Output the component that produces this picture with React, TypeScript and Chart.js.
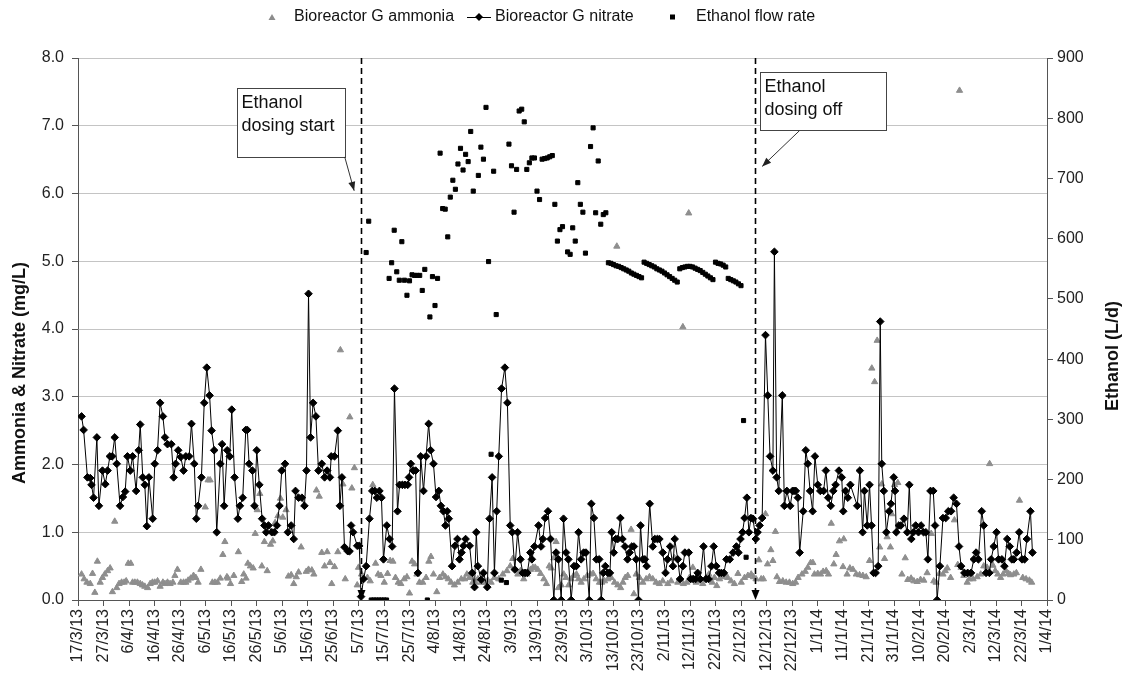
import { useEffect, useRef } from "react";
import { Chart, registerables } from "chart.js";

Chart.register(...registerables);

// X axis: day number since 17/3/13, ticks every 10 days
const xTickLabels = [
  "17/3/13", "27/3/13", "6/4/13", "16/4/13", "26/4/13", "6/5/13", "16/5/13", "26/5/13",
  "5/6/13", "15/6/13", "25/6/13", "5/7/13", "15/7/13", "25/7/13", "4/8/13", "14/8/13",
  "24/8/13", "3/9/13", "13/9/13", "23/9/13", "3/10/13", "13/10/13", "23/10/13", "2/11/13",
  "12/11/13", "22/11/13", "2/12/13", "12/12/13", "22/12/13", "1/1/14", "11/1/14", "21/1/14",
  "31/1/14", "10/2/14", "20/2/14", "2/3/14", "12/3/14", "22/3/14", "1/4/14",
];

const seriesNames = ["Bioreactor G ammonia", "Bioreactor G nitrate", "Ethanol flow rate"];

// [day, mg/L]
const nitrate: [number, number][] = [
  [1.4, 2.71], [2.2, 2.51], [3.7, 1.81], [4.8, 1.8], [5.3, 1.7], [6.1, 1.51], [7.4, 2.4], [8.2, 1.39],
  [9.6, 1.91], [10.7, 1.71], [11.6, 1.91], [12.5, 2.12], [13.4, 2.12], [14.4, 2.4], [15.2, 2.01], [16.5, 1.39],
  [17.6, 1.52], [18.5, 1.6], [19.4, 2.12], [20.5, 1.91], [21.4, 2.12], [22.8, 1.61], [23.8, 2.21], [24.4, 2.59],
  [25.4, 1.81], [26.2, 1.7], [27.0, 1.09], [27.8, 1.81], [29.3, 1.2], [30.1, 2.01], [31.2, 2.21], [32.2, 2.91],
  [33.3, 2.71], [34.1, 2.4], [35.1, 2.3], [36.6, 2.3], [37.5, 1.81], [38.3, 2.01], [39.3, 2.21], [40.3, 2.11],
  [41.4, 1.91], [42.3, 2.12], [43.6, 2.12], [44.5, 2.6], [45.6, 2.01], [46.4, 1.2], [47.1, 1.39], [48.4, 1.81],
  [49.5, 2.91], [50.5, 3.43], [51.6, 3.02], [52.4, 2.5], [53.4, 2.21], [54.4, 1.0], [55.8, 2.01], [56.5, 2.3],
  [57.3, 1.39], [58.5, 2.21], [59.5, 2.12], [60.3, 2.81], [61.4, 1.81], [62.7, 1.2], [63.5, 1.39], [64.6, 1.51],
  [65.8, 2.51], [66.4, 2.51], [67.1, 2.01], [68.4, 1.91], [69.2, 1.39], [70.1, 2.21], [71.1, 1.7], [72.2, 1.2],
  [73.1, 1.1], [73.8, 1.0], [74.7, 1.1], [76.0, 1.0], [77.0, 1.0], [78.0, 1.1], [79.0, 1.39], [79.9, 1.91],
  [81.2, 2.01], [82.3, 1.0], [83.6, 1.1], [84.6, 0.9], [85.3, 1.61], [86.5, 1.51], [87.8, 1.51], [88.8, 1.39],
  [89.6, 1.91], [90.4, 4.52], [91.2, 2.4], [92.2, 2.91], [93.3, 2.71], [94.3, 1.91], [95.6, 2.01], [96.7, 1.81],
  [97.7, 1.91], [98.8, 1.81], [99.3, 2.12], [100.6, 2.12], [101.9, 2.5], [102.7, 1.39], [103.5, 1.81], [104.5, 0.78],
  [105.8, 0.72], [106.5, 0.72], [107.1, 1.1], [107.9, 1.0], [109.5, 0.8], [110.3, 0.8], [111.0, 0.05], [112.0, 0.31],
  [113.0, 0.5], [114.3, 1.2], [115.4, 1.61], [116.4, 1.61], [117.2, 1.51], [118.2, 1.61], [119.0, 1.51], [119.8, 0.6],
  [121.1, 1.1], [122.2, 0.9], [123.2, 0.79], [124.1, 3.12], [125.3, 1.31], [126.1, 1.7], [127.2, 1.7], [128.2, 1.7],
  [129.3, 1.7], [129.8, 1.81], [130.5, 2.01], [131.5, 1.91], [132.4, 1.91], [133.3, 0.4], [134.4, 2.12], [135.5, 1.61],
  [136.5, 2.12], [137.5, 2.6], [138.3, 2.21], [139.4, 2.01], [140.4, 1.52], [141.5, 1.61], [142.3, 1.39], [143.3, 1.31],
  [144.1, 1.1], [144.8, 1.31], [145.4, 1.2], [146.7, 0.5], [147.8, 0.8], [148.8, 0.9], [149.6, 0.6], [150.4, 0.7],
  [151.2, 0.8], [152.0, 0.9], [153.6, 0.8], [154.6, 0.4], [155.5, 0.19], [156.2, 1.0], [156.8, 0.5], [158.1, 0.3],
  [159.0, 0.4], [160.5, 0.19], [161.4, 1.2], [162.4, 1.81], [163.3, 0.4], [164.2, 1.31], [165.0, 2.12], [166.1, 3.12],
  [167.4, 3.43], [168.4, 2.91], [169.5, 1.1], [170.3, 1.0], [171.3, 0.45], [172.4, 1.0], [173.5, 0.6], [174.4, 0.4],
  [175.3, 0.4], [176.2, 0.4], [177.4, 0.7], [178.0, 0.6], [179.0, 0.79], [180.6, 1.1], [181.6, 0.79], [182.3, 0.9],
  [183.2, 1.21], [184.3, 1.31], [185.3, 0.9], [186.6, 0.0], [187.5, 0.7], [188.4, 0.6], [189.5, 0.0], [190.4, 1.2],
  [191.4, 0.7], [192.3, 0.6], [193.4, 0.0], [194.5, 0.5], [195.4, 0.5], [196.3, 1.0], [197.3, 0.6], [198.3, 0.7],
  [199.2, 0.7], [200.5, 0.0], [201.3, 1.42], [202.3, 1.21], [203.3, 0.6], [204.4, 0.6], [205.2, 0.0], [206.0, 0.4],
  [206.8, 0.5], [207.8, 0.4], [208.6, 0.4], [209.3, 1.0], [210.1, 0.7], [210.9, 0.9], [211.7, 0.9], [212.7, 1.21],
  [213.5, 0.9], [214.5, 0.79], [215.5, 0.6], [216.3, 0.7], [217.2, 0.79], [218.0, 0.79], [218.9, 0.6], [219.8, 0.0],
  [220.6, 1.1], [221.5, 0.6], [222.3, 0.6], [223.0, 0.5], [224.2, 1.42], [225.4, 0.79], [226.2, 0.9], [227.2, 0.9],
  [228.0, 0.9], [229.3, 0.7], [230.4, 0.4], [231.2, 0.6], [232.2, 0.79], [233.3, 0.5], [234.0, 0.9], [235.2, 0.6],
  [236.1, 0.31], [237.2, 0.5], [238.0, 0.7], [239.5, 0.7], [240.3, 0.31], [241.2, 0.31], [242.2, 0.31], [243.0, 0.4],
  [244.0, 0.31], [245.3, 0.79], [246.3, 0.31], [247.3, 0.31], [248.4, 0.5], [249.3, 0.79], [250.3, 0.5], [251.4, 0.4],
  [252.3, 0.4], [253.3, 0.4], [254.3, 0.6], [255.6, 0.6], [256.9, 0.7], [258.2, 0.79], [259.0, 0.7], [259.8, 0.9],
  [260.6, 1.0], [261.4, 1.21], [262.3, 1.51], [263.1, 1.0], [263.9, 1.21], [264.7, 1.2], [265.8, 0.9], [266.5, 1.0],
  [267.3, 1.1], [268.3, 1.21], [269.6, 3.91], [270.5, 3.02], [271.4, 2.12], [272.5, 1.91], [273.1, 5.14], [274.0, 1.81],
  [274.8, 1.61], [276.2, 3.02], [277.0, 1.39], [278.0, 1.61], [279.3, 1.39], [280.2, 1.61], [280.8, 1.61], [281.5, 1.61],
  [282.3, 1.51], [283.0, 0.7], [284.4, 1.31], [285.4, 2.21], [286.2, 2.01], [287.1, 1.61], [288.1, 1.31], [289.0, 2.12],
  [290.1, 1.7], [291.1, 1.61], [292.4, 1.61], [293.3, 1.91], [294.2, 1.51], [295.2, 1.39], [296.2, 1.61], [297.1, 1.7],
  [298.4, 1.91], [299.5, 1.81], [300.1, 1.31], [301.0, 1.61], [301.9, 1.51], [302.9, 1.7], [305.6, 1.39], [306.6, 1.91],
  [307.7, 1.0], [308.4, 1.61], [309.5, 1.1], [310.4, 1.7], [311.2, 1.1], [312.0, 0.4], [312.8, 0.4], [313.8, 0.5],
  [314.6, 4.11], [315.2, 2.01], [316.0, 1.61], [317.0, 1.0], [318.1, 1.31], [318.8, 1.42], [319.9, 1.81], [320.4, 1.61],
  [320.9, 1.0], [321.9, 1.1], [322.7, 1.1], [323.9, 1.2], [325.2, 1.0], [326.0, 1.7], [326.8, 0.9], [327.6, 1.0],
  [328.5, 1.1], [329.6, 1.0], [330.6, 1.1], [331.6, 1.0], [332.5, 1.0], [333.3, 0.6], [334.3, 1.61], [335.4, 1.61],
  [336.1, 1.1], [336.9, 0.0], [338.0, 0.5], [339.2, 1.21], [340.3, 1.21], [341.3, 1.31], [342.4, 1.31], [343.4, 1.51],
  [344.5, 1.42], [345.5, 0.79], [346.3, 0.5], [347.6, 0.4], [348.9, 0.4], [350.2, 0.4], [351.3, 0.6], [352.2, 0.7],
  [353.1, 0.6], [354.4, 1.31], [355.2, 1.1], [356.1, 0.4], [357.4, 0.4], [358.1, 0.6], [359.1, 0.79], [360.2, 1.0],
  [361.0, 0.6], [362.3, 0.6], [363.3, 0.5], [364.4, 0.9], [365.4, 0.79], [366.2, 0.6], [367.0, 0.6], [368.1, 0.7],
  [369.1, 1.0], [370.2, 0.6], [371.2, 0.6], [372.1, 0.9], [373.5, 1.31], [374.3, 0.7],
];

// [day, mg/L]
const ammonia: [number, number][] = [
  [1.4, 0.38], [2.4, 0.31], [3.5, 0.26], [4.8, 0.24], [5.7, 0.39], [6.6, 0.11], [7.6, 0.57], [8.7, 0.26],
  [9.6, 0.33], [10.5, 0.38], [11.6, 0.43], [12.6, 0.47], [13.5, 0.12], [14.4, 1.16], [15.2, 0.18], [16.1, 0.24],
  [17.1, 0.26], [18.1, 0.26], [18.9, 0.28], [19.7, 0.54], [20.7, 0.54], [21.4, 0.26], [22.3, 0.26], [23.3, 0.26],
  [24.4, 0.24], [25.3, 0.22], [26.2, 0.2], [27.3, 0.18], [28.3, 0.24], [29.2, 0.26], [30.1, 0.26], [31.2, 0.28],
  [32.2, 0.2], [33.3, 0.26], [34.1, 0.24], [35.1, 0.26], [36.1, 0.24], [37.2, 0.26], [38.0, 0.36], [39.0, 0.45],
  [40.3, 0.26], [41.4, 0.26], [42.3, 0.26], [43.2, 0.29], [44.2, 0.32], [45.3, 0.36], [46.2, 0.33], [47.1, 0.26],
  [48.2, 0.45], [49.9, 1.37], [51.0, 1.77], [51.8, 1.77], [52.7, 0.26], [53.7, 0.26], [54.7, 0.26], [55.8, 0.32],
  [56.8, 0.67], [57.6, 0.86], [58.4, 0.34], [58.8, 0.32], [59.8, 0.24], [61.1, 0.36], [62.9, 0.71], [64.2, 0.27],
  [65.0, 0.38], [65.9, 0.32], [66.6, 0.54], [67.6, 0.5], [68.7, 0.47], [69.5, 0.98], [70.3, 1.33], [71.3, 1.57],
  [72.1, 0.5], [73.1, 0.86], [74.2, 0.43], [75.5, 0.82], [76.4, 0.87], [77.3, 1.14], [78.4, 1.24], [79.4, 1.5],
  [80.3, 1.22], [81.6, 1.33], [82.5, 0.35], [83.6, 0.37], [84.6, 0.24], [85.6, 0.34], [86.5, 0.41], [87.5, 0.78],
  [89.5, 0.42], [90.4, 0.45], [91.7, 0.44], [92.5, 0.38], [93.5, 1.62], [94.6, 1.53], [95.6, 0.7], [96.7, 0.5],
  [97.7, 0.71], [98.8, 0.55], [99.5, 0.24], [100.6, 0.49], [101.9, 0.71], [102.9, 3.69], [103.9, 1.71], [104.8, 0.31],
  [106.6, 2.7], [107.4, 1.65], [108.4, 1.95], [109.5, 0.22], [110.0, 0.48], [111.2, 0.38], [113.5, 0.33], [114.6, 0.28],
  [115.6, 1.7], [116.7, 0.54], [117.7, 0.38], [118.8, 0.36], [120.1, 0.26], [121.4, 0.39], [122.4, 0.58], [123.5, 0.57],
  [124.5, 0.33], [125.6, 0.26], [126.6, 0.24], [127.9, 0.31], [129.0, 0.34], [130.0, 0.1], [131.0, 0.57], [132.0, 0.53],
  [132.9, 0.38], [133.9, 0.26], [135.2, 0.26], [136.5, 0.33], [137.6, 0.57], [138.4, 0.64], [139.4, 0.38], [140.7, 0.12],
  [141.8, 0.33], [143.1, 0.38], [144.1, 0.34], [145.2, 0.31], [146.3, 0.26], [147.6, 0.22], [148.9, 0.26], [150.3, 0.31],
  [151.6, 0.31], [152.5, 0.38], [153.5, 0.33], [154.8, 0.26], [155.9, 0.26], [156.8, 0.31], [158.1, 0.26], [159.4, 0.26],
  [160.7, 0.29], [162.0, 0.26], [163.3, 0.33], [165.0, 0.31], [166.6, 0.38], [168.2, 0.43], [169.5, 0.5], [170.5, 0.61],
  [172.5, 0.38], [173.5, 0.43], [174.8, 0.31], [176.1, 0.38], [177.5, 0.45], [178.4, 0.48], [179.3, 0.48], [180.3, 0.45],
  [181.4, 0.39], [182.7, 0.31], [183.7, 0.24], [184.8, 0.5], [185.6, 0.47], [186.6, 0.62], [187.5, 0.86], [188.4, 0.18],
  [189.5, 0.22], [190.5, 0.38], [191.4, 0.33], [192.4, 0.22], [193.4, 0.31], [194.4, 0.36], [195.5, 0.38], [196.3, 0.31],
  [197.3, 0.26], [198.4, 0.31], [199.7, 0.36], [201.0, 0.38], [202.0, 0.39], [203.2, 0.31], [204.5, 0.26], [205.4, 0.26],
  [206.5, 0.28], [207.8, 0.31], [209.1, 0.33], [210.4, 0.26], [211.3, 5.22], [211.7, 0.22], [212.8, 0.18], [213.7, 0.26],
  [214.6, 0.33], [215.6, 0.36], [216.9, 1.04], [218.0, 0.09], [218.9, 0.38], [220.2, 0.33], [221.5, 0.26], [222.8, 0.31],
  [224.1, 0.34], [225.4, 0.31], [226.7, 0.26], [228.0, 0.24], [229.3, 0.28], [231.3, 0.24], [232.6, 0.28], [233.9, 0.62],
  [235.2, 0.26], [236.1, 0.31], [237.2, 4.03], [237.4, 0.24], [238.8, 0.26], [239.5, 5.71], [239.8, 0.33], [241.1, 0.48],
  [242.4, 0.26], [243.7, 0.28], [245.0, 0.24], [246.3, 0.33], [247.4, 0.38], [248.7, 0.26], [249.6, 0.33], [250.5, 0.21],
  [251.6, 0.31], [252.6, 0.34], [253.7, 0.37], [254.8, 0.33], [256.1, 0.28], [257.4, 0.24], [258.8, 0.39], [260.1, 0.26],
  [261.4, 0.33], [262.7, 0.36], [264.0, 0.38], [264.9, 0.34], [265.9, 0.31], [267.0, 0.59], [267.9, 0.31], [268.8, 0.31],
  [269.6, 1.27], [270.4, 0.53], [271.7, 0.74], [272.5, 0.58], [273.5, 1.01], [274.1, 0.34], [275.1, 0.27], [276.4, 0.28],
  [277.7, 0.26], [279.0, 0.26], [280.3, 0.24], [281.4, 0.26], [282.4, 0.33], [283.9, 0.38], [285.2, 0.42], [286.2, 0.48],
  [287.3, 0.55], [288.2, 0.55], [288.8, 0.38], [290.1, 0.39], [291.2, 0.38], [292.2, 0.42], [293.4, 0.43], [294.3, 0.38],
  [295.4, 1.13], [296.4, 0.53], [297.3, 0.67], [298.6, 0.87], [300.0, 0.49], [300.3, 0.9], [301.6, 0.38], [302.7, 0.47],
  [303.9, 0.45], [305.2, 0.38], [306.5, 0.37], [307.8, 0.36], [309.1, 0.34], [310.4, 0.58], [311.3, 3.42], [312.4, 3.22],
  [313.4, 3.83], [314.4, 0.78], [315.2, 1.71], [316.3, 0.61], [317.3, 0.93], [318.6, 0.78], [319.1, 1.27], [320.2, 1.7],
  [321.5, 1.73], [323.1, 0.38], [324.4, 0.62], [325.4, 0.3], [326.7, 0.32], [327.8, 0.28], [329.1, 0.27], [330.4, 0.3],
  [331.7, 0.29], [333.0, 0.4], [334.6, 0.98], [335.6, 0.28], [336.5, 0.26], [337.8, 0.39], [339.2, 0.38], [340.1, 0.43],
  [340.9, 0.47], [342.2, 0.33], [343.7, 1.18], [345.0, 0.52], [345.7, 7.52], [346.3, 0.48], [347.4, 0.36], [348.7, 0.26],
  [349.6, 0.31], [351.0, 0.31], [352.6, 0.34], [354.0, 0.38], [355.2, 0.5], [356.5, 0.48], [357.5, 2.01], [358.8, 0.51],
  [359.7, 0.43], [360.7, 0.38], [361.8, 0.33], [362.8, 0.38], [363.9, 0.43], [364.9, 0.39], [365.7, 0.37], [367.0, 0.38],
  [368.0, 0.4], [369.2, 1.47], [370.5, 0.33], [371.8, 0.31], [373.1, 0.29], [374.0, 0.26],
];

// [day, L/d]
const ethanol: [number, number][] = [
  [113, 577], [114, 629], [115, 0], [116, 0], [117, 0], [118, 0], [119, 0], [120, 0], [121, 0], [122, 534],
  [123, 560], [124, 614], [125, 545], [126, 531], [127, 595], [128, 531], [129, 506], [130, 530], [131, 540],
  [132, 539], [133, 539], [134, 539], [135, 514], [136, 549], [137, 0], [138, 470], [139, 537], [140, 489],
  [141, 534], [142, 742], [143, 650], [144, 649], [145, 603], [146, 669], [147, 697], [148, 682], [149, 724],
  [150, 750], [151, 714], [152, 740], [153, 728], [154, 778], [155, 679], [157, 705], [158, 752], [159, 732],
  [160, 818], [161, 562], [162, 242], [163, 712], [164, 474], [166, 33], [168, 29], [169, 757], [170, 721],
  [171, 644], [172, 715], [173, 812], [174, 815], [175, 794], [176, 715], [177, 726], [178, 734], [179, 734],
  [180, 679], [181, 665], [182, 732], [183, 733], [184, 734], [185, 736], [186, 738], [187, 657], [188, 596],
  [189, 615], [190, 620], [192, 578], [193, 574], [194, 618], [195, 596], [196, 693], [197, 657], [198, 644],
  [199, 576], [201, 753], [202, 784], [203, 643], [204, 729], [205, 624], [206, 640], [207, 643],
  [208, 560], [209, 559], [210, 557], [211, 555], [212, 554], [213, 552], [214, 550], [215, 548], [216, 546],
  [217, 543], [218, 541], [219, 539], [220, 537], [221, 535],
  [222, 561], [223, 559], [224, 557], [225, 555], [226, 553], [227, 550], [228, 548], [229, 546], [230, 543],
  [231, 540], [232, 537], [233, 534], [234, 531], [235, 528],
  [236, 550], [237, 552], [238, 553], [239, 554], [240, 554], [241, 553], [242, 551], [243, 549], [244, 547],
  [245, 544], [246, 541], [247, 538], [248, 535], [249, 532],
  [250, 561], [251, 559], [252, 558], [253, 556], [254, 553],
  [255, 534], [256, 532], [257, 530], [258, 528], [259, 525], [260, 522], [261, 298], [262, 71],
];

const ethanolStartDay = 111;
const ethanolOffDay = 265.4;

// Annotation callouts, positioned in data units (day, mg/L)
const callouts = [
  { lines: ["Ethanol", "dosing start"], x0: 62.5, x1: 104.6, yTop: 7.56, yBot: 6.54, from: [104.6, 6.54], to: [108.3, 6.04] },
  { lines: ["Ethanol", "dosing off"], x0: 267.3, x1: 316.7, yTop: 7.8, yBot: 6.93, from: [283, 6.93], to: [268.3, 6.4] },
];

const FONT = "'Liberation Sans', Arial, sans-serif";

function arrowHead(ctx: CanvasRenderingContext2D, x1: number, y1: number, x2: number, y2: number, len: number, half: number) {
  const a = Math.atan2(y2 - y1, x2 - x1);
  ctx.beginPath();
  ctx.moveTo(x2, y2);
  ctx.lineTo(x2 - len * Math.cos(a) + half * Math.sin(a), y2 - len * Math.sin(a) - half * Math.cos(a));
  ctx.lineTo(x2 - len * Math.cos(a) - half * Math.sin(a), y2 - len * Math.sin(a) + half * Math.cos(a));
  ctx.closePath();
  ctx.fill();
}

const overlayPlugin = {
  id: "overlay",
  afterDraw(chart: any) {
    const { ctx, chartArea, scales } = chart;
    const xs = scales.x;
    const ys = scales.y;
    ctx.save();

    // dashed marker lines with downward arrowheads
    for (const d of [ethanolStartDay, ethanolOffDay]) {
      const px = Math.round(xs.getPixelForValue(d)) + 0.5;
      ctx.strokeStyle = "#000";
      ctx.fillStyle = "#000";
      ctx.lineWidth = 1.6;
      ctx.setLineDash([6, 4]);
      ctx.beginPath();
      ctx.moveTo(px, chartArea.top);
      ctx.lineTo(px, chartArea.bottom - 8);
      ctx.stroke();
      ctx.setLineDash([]);
      arrowHead(ctx, px, chartArea.bottom - 20, px, chartArea.bottom, 10, 4);
    }

    // callout boxes
    ctx.setLineDash([]);
    for (const c of callouts) {
      const l = Math.round(xs.getPixelForValue(c.x0)) + 0.5;
      const r = Math.round(xs.getPixelForValue(c.x1)) + 0.5;
      const t = Math.round(ys.getPixelForValue(c.yTop)) + 0.5;
      const b = Math.round(ys.getPixelForValue(c.yBot)) + 0.5;
      ctx.fillStyle = "#fff";
      ctx.fillRect(l, t, r - l, b - t);
      ctx.strokeStyle = "#444";
      ctx.lineWidth = 1;
      ctx.strokeRect(l, t, r - l, b - t);
      ctx.fillStyle = "#111";
      ctx.font = `18px ${FONT}`;
      ctx.textAlign = "left";
      ctx.textBaseline = "middle";
      c.lines.forEach((s, i) => ctx.fillText(s, l + 4, t + 15 + i * 23));
      const fx = xs.getPixelForValue(c.from[0]);
      const fy = ys.getPixelForValue(c.from[1]);
      const tx = xs.getPixelForValue(c.to[0]);
      const ty = ys.getPixelForValue(c.to[1]);
      ctx.strokeStyle = "#333";
      ctx.fillStyle = "#222";
      ctx.beginPath();
      ctx.moveTo(fx, fy);
      ctx.lineTo(tx, ty);
      ctx.stroke();
      arrowHead(ctx, fx, fy, tx, ty, 9, 3.5);
    }

    // axis titles
    ctx.fillStyle = "#111";
    ctx.font = `bold 18px ${FONT}`;
    ctx.textAlign = "center";
    ctx.textBaseline = "middle";
    ctx.save();
    ctx.translate(20, 373);
    ctx.rotate(-Math.PI / 2);
    ctx.fillText("Ammonia & Nitrate (mg/L)", 0, 0);
    ctx.restore();
    ctx.save();
    ctx.translate(1113, 356);
    ctx.rotate(-Math.PI / 2);
    ctx.fillText("Ethanol (L/d)", 0, 0);
    ctx.restore();

    // legend
    const ly = 17;
    ctx.font = `16px ${FONT}`;
    ctx.textAlign = "left";
    ctx.fillStyle = "#8c8c8c";
    ctx.beginPath();
    ctx.moveTo(272, ly - 3);
    ctx.lineTo(275.5, ly + 3);
    ctx.lineTo(268.5, ly + 3);
    ctx.closePath();
    ctx.fill();
    ctx.fillStyle = "#111";
    ctx.fillText(seriesNames[0], 294, ly);
    ctx.strokeStyle = "#000";
    ctx.lineWidth = 1;
    ctx.beginPath();
    ctx.moveTo(467, ly + 0.5);
    ctx.lineTo(491, ly + 0.5);
    ctx.stroke();
    ctx.fillStyle = "#000";
    ctx.beginPath();
    ctx.moveTo(479, ly - 4);
    ctx.lineTo(483, ly);
    ctx.lineTo(479, ly + 4);
    ctx.lineTo(475, ly);
    ctx.closePath();
    ctx.fill();
    ctx.fillStyle = "#111";
    ctx.fillText(seriesNames[1], 495, ly);
    ctx.fillStyle = "#000";
    ctx.fillRect(670, ly - 2.5, 5, 5);
    ctx.fillStyle = "#111";
    ctx.fillText(seriesNames[2], 696, ly);

    ctx.restore();
  },
};

export default function App() {
  const ref = useRef<HTMLCanvasElement | null>(null);

  useEffect(() => {
    const toXY = (arr: [number, number][]) => arr.map(([x, y]) => ({ x, y }));
    const tickFont = { family: FONT, size: 16 };
    const chart = new Chart(ref.current as HTMLCanvasElement, {
      type: "line",
      data: {
        datasets: [
          {
            label: seriesNames[0],
            data: toXY(ammonia),
            showLine: false,
            pointStyle: "triangle",
            pointRadius: 3.6,
            pointBorderWidth: 1,
            pointBackgroundColor: "#8e8e8e",
            pointBorderColor: "#8e8e8e",
            backgroundColor: "#8e8e8e",
            borderColor: "#8e8e8e",
            yAxisID: "y",
            order: 3,
          },
          {
            label: seriesNames[1],
            data: toXY(nitrate),
            borderColor: "#000",
            borderWidth: 1,
            pointStyle: "rectRot",
            pointRadius: 3.8,
            pointBorderWidth: 1,
            pointBackgroundColor: "#000",
            pointBorderColor: "#000",
            tension: 0,
            yAxisID: "y",
            order: 2,
          },
          {
            label: seriesNames[2],
            data: toXY(ethanol),
            showLine: false,
            pointStyle: "rect",
            pointRadius: 2.9,
            pointBorderWidth: 1,
            pointBackgroundColor: "#000",
            pointBorderColor: "#000",
            backgroundColor: "#000",
            borderColor: "#000",
            yAxisID: "y2",
            order: 1,
          },
        ],
      },
      options: {
        responsive: false,
        animation: false,
        events: [],
        layout: { padding: { top: 58, left: 0, right: 0, bottom: 0 } },
        plugins: { legend: { display: false }, tooltip: { enabled: false }, title: { display: false } },
        scales: {
          x: {
            type: "linear",
            min: 0,
            max: 380,
            afterFit: (s: any) => { s.height = 88; },
            ticks: {
              stepSize: 10,
              autoSkip: false,
              minRotation: 90,
              maxRotation: 90,
              padding: 3,
              color: "#222",
              font: tickFont,
              callback: (v: any) => xTickLabels[Math.round(Number(v) / 10)] ?? "",
            },
            grid: { drawOnChartArea: false, drawTicks: true, tickLength: 6, color: "#555" },
            border: { color: "#555", width: 1 },
          },
          y: {
            position: "left",
            min: 0,
            max: 8,
            afterFit: (s: any) => { s.width = 78; },
            ticks: {
              stepSize: 1,
              padding: 8,
              color: "#222",
              font: tickFont,
              callback: (v: any) => Number(v).toFixed(1),
            },
            grid: { color: "#c4c4c4", tickColor: "#555", tickLength: 6, lineWidth: 1 },
            border: { color: "#555", width: 1 },
          },
          y2: {
            position: "right",
            min: 0,
            max: 900,
            afterFit: (s: any) => { s.width = 82; },
            ticks: { stepSize: 100, padding: 4, color: "#222", font: tickFont },
            grid: { drawOnChartArea: false, tickLength: 6, color: "#555" },
            border: { color: "#555", width: 1 },
          },
        },
      },
      plugins: [overlayPlugin],
    } as any);
    return () => chart.destroy();
  }, []);

  return (
    <div style={{ position: "fixed", left: 0, top: 0, width: 1129, height: 688, background: "#fff" }}>
      <canvas ref={ref} width={1129} height={688} style={{ display: "block" }} />
    </div>
  );
}
